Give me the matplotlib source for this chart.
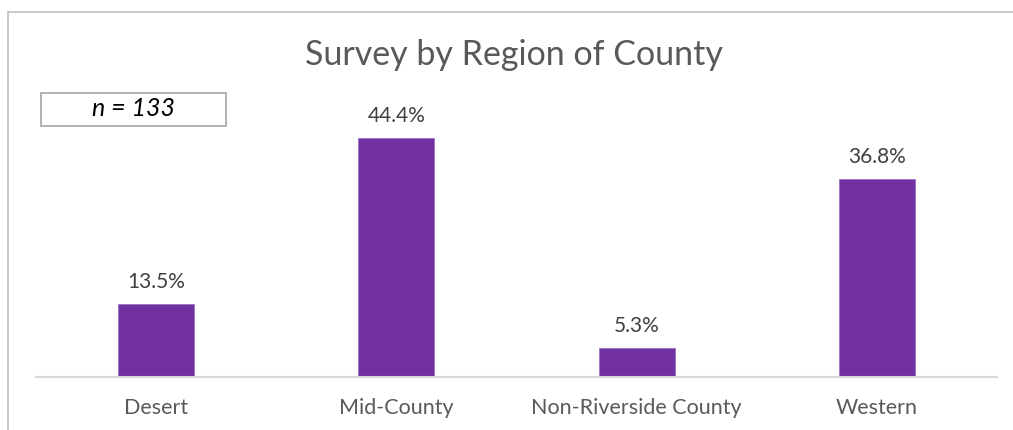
import numpy as np
import matplotlib.pyplot as plt
from matplotlib.lines import Line2D
from matplotlib.patches import Rectangle

regions = ['Desert', 'Mid-County', 'Non-Riverside County', 'Western']
shares = [13.5, 44.4, 5.3, 36.8]
sample_note = 'n = 133'

W, H = 1013, 430
fig = plt.figure(figsize=(W / 100, H / 100), dpi=100)

# plot area in pixel terms, converted to figure fractions
left, right, bottom, top = 36, 997, 377, 100
ax = fig.add_axes([left / W, 1 - bottom / H, (right - left) / W, (bottom - top) / H])

x = np.arange(len(regions))
ax.bar(x, shares, width=0.317, color='#7030A0', edgecolor='#9A6BC0', linewidth=0.5)
for xi, v in zip(x, shares):
    ax.text(xi, v + 2.3, f'{v:.1f}%', ha='center', va='bottom',
            fontsize=15, color='#404040', family='Lato')

ax.set_xlim(-0.5, len(regions) - 0.5)
ax.set_ylim(0, (bottom - top) / 5.38)
ax.set_xticks(x)
ax.set_xticklabels(regions, fontsize=15.5, color='#595959', family='Lato')
ax.tick_params(axis='x', length=0, pad=15)
ax.set_yticks([])
for s in ['top', 'right', 'left']:
    ax.spines[s].set_visible(False)
ax.spines['bottom'].set_color('#D9D9D9')
ax.spines['bottom'].set_linewidth(1.5)

# title
fig.text(514 / W, 1 - 55 / H, 'Survey by Region of County', ha='center', va='center',
         fontsize=24.5, color='#595959', family='Lato')

# sample size box
fig.patches.append(Rectangle((41 / W, 1 - 126 / H), 185 / W, 33 / H,
                             transform=fig.transFigure, facecolor='white',
                             edgecolor='#A6A6A6', linewidth=1.2))
fig.text(133 / W, 1 - 109 / H, sample_note, ha='center', va='center',
         fontsize=18, style='italic', color='black', family='Lato')

# outer chart frame, top and left edges only
fig.lines.append(Line2D([8 / W, 1], [1 - 12 / H, 1 - 12 / H], transform=fig.transFigure,
                        color='#BFBFBF', linewidth=1.2))
fig.lines.append(Line2D([8 / W, 8 / W], [0, 1 - 12 / H], transform=fig.transFigure,
                        color='#BFBFBF', linewidth=1.2))

fig.savefig('out.png', dpi=100)
